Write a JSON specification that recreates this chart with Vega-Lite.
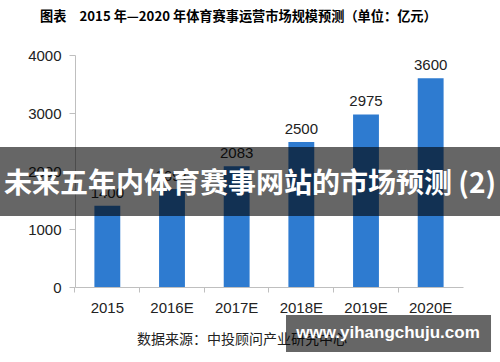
{
  "$schema": "https://vega.github.io/schema/vega-lite/v6.json",
  "width": 388,
  "height": 232,
  "autosize": {"type": "none"},
  "padding": {"left": 75, "top": 55, "right": 37, "bottom": 75},
  "background": "white",
  "config": {"view": {"stroke": null}, "font": "Liberation Sans"},
  "title": {
    "text": "图表　2015 年—2020 年体育赛事运营市场规模预测（单位：亿元）",
    "anchor": "start",
    "frame": "group",
    "dx": -35,
    "offset": 24,
    "font": "Noto Sans CJK SC",
    "fontSize": 13.2,
    "fontWeight": "bold",
    "color": "#000000"
  },
  "datasets": {
    "bars": [
      {"year": "2015", "value": 1400},
      {"year": "2016E", "value": 1691},
      {"year": "2017E", "value": 2083},
      {"year": "2018E", "value": 2500},
      {"year": "2019E", "value": 2975},
      {"year": "2020E", "value": 3600}
    ],
    "banner": [{"x1": -0.2, "x2": 1.1, "y1": 1224, "y2": 2414}],
    "bannerText": [{"x": 0.451, "y": 1760, "label": "未来五年内体育赛事网站的市场预测 (2)"}],
    "source": [{"x": 0.16, "y": -914, "label": "数据来源：中投顾问产业研究中心"}],
    "mark": [{"x1": 0.5438, "x2": 1.0722, "y1": -483, "y2": -1121}],
    "markText": [{"x": 0.8067, "y": -793, "label": "www.yihangchuju.com"}]
  },
  "layer": [
    {
      "data": {"name": "bars"},
      "encoding": {
        "x": {
          "field": "year", "type": "nominal", "sort": null,
          "scale": {"paddingInner": 0.6, "paddingOuter": 0.3},
          "axis": {
            "title": null, "labelAngle": 0, "labelFontSize": 15, "labelColor": "#222222",
            "domainColor": "#BFBFBF", "tickColor": "#BFBFBF", "tickSize": 5,
            "labelPadding": 8, "bandPosition": -0.75
          }
        },
        "y": {
          "field": "value", "type": "quantitative",
          "scale": {"domain": [0, 4000]},
          "axis": {
            "title": null, "values": [0, 500, 1000, 1500, 2000, 2500, 3000, 3500, 4000],
            "format": "d", "grid": false, "labelFontSize": 15, "labelColor": "#222222",
            "domainColor": "#BFBFBF", "tickColor": "#BFBFBF", "tickSize": 6, "labelPadding": 8
          }
        }
      },
      "layer": [
        {"mark": {"type": "bar", "color": "#2E7BD0"}},
        {
          "mark": {"type": "text", "dy": -8, "baseline": "alphabetic", "fontSize": 15, "color": "#222222"},
          "encoding": {"text": {"field": "value", "type": "quantitative", "format": "d"}}
        }
      ]
    },
    {
      "data": {"name": "source"},
      "mark": {"type": "text", "align": "left", "baseline": "middle", "font": "Noto Sans CJK SC", "fontSize": 14, "color": "#222222"},
      "encoding": {
        "x": {"field": "x", "type": "quantitative", "scale": {"domain": [0, 1]}, "axis": null},
        "y": {"field": "y", "type": "quantitative"},
        "text": {"field": "label"}
      }
    },
    {
      "data": {"name": "banner"},
      "mark": {"type": "rect", "color": "#000000", "opacity": 0.6},
      "encoding": {
        "x": {"field": "x1", "type": "quantitative", "scale": {"domain": [0, 1]}, "axis": null},
        "x2": {"field": "x2"},
        "y": {"field": "y1", "type": "quantitative"},
        "y2": {"field": "y2"}
      }
    },
    {
      "data": {"name": "bannerText"},
      "mark": {"type": "text", "align": "center", "baseline": "middle", "font": "Noto Sans CJK SC", "fontSize": 28, "fontWeight": "bold", "color": "#FFFFFF"},
      "encoding": {
        "x": {"field": "x", "type": "quantitative", "scale": {"domain": [0, 1]}, "axis": null},
        "y": {"field": "y", "type": "quantitative"},
        "text": {"field": "label"}
      }
    },
    {
      "data": {"name": "mark"},
      "mark": {"type": "rect", "color": "#000000", "opacity": 0.6},
      "encoding": {
        "x": {"field": "x1", "type": "quantitative", "scale": {"domain": [0, 1]}, "axis": null},
        "x2": {"field": "x2"},
        "y": {"field": "y1", "type": "quantitative"},
        "y2": {"field": "y2"}
      }
    },
    {
      "data": {"name": "markText"},
      "mark": {"type": "text", "align": "center", "baseline": "middle", "font": "Liberation Sans", "fontSize": 17, "fontWeight": "bold", "color": "#FFFFFF"},
      "encoding": {
        "x": {"field": "x", "type": "quantitative", "scale": {"domain": [0, 1]}, "axis": null},
        "y": {"field": "y", "type": "quantitative"},
        "text": {"field": "label"}
      }
    }
  ],
  "resolve": {"scale": {"x": "independent"}, "axis": {"x": "independent"}}
}
